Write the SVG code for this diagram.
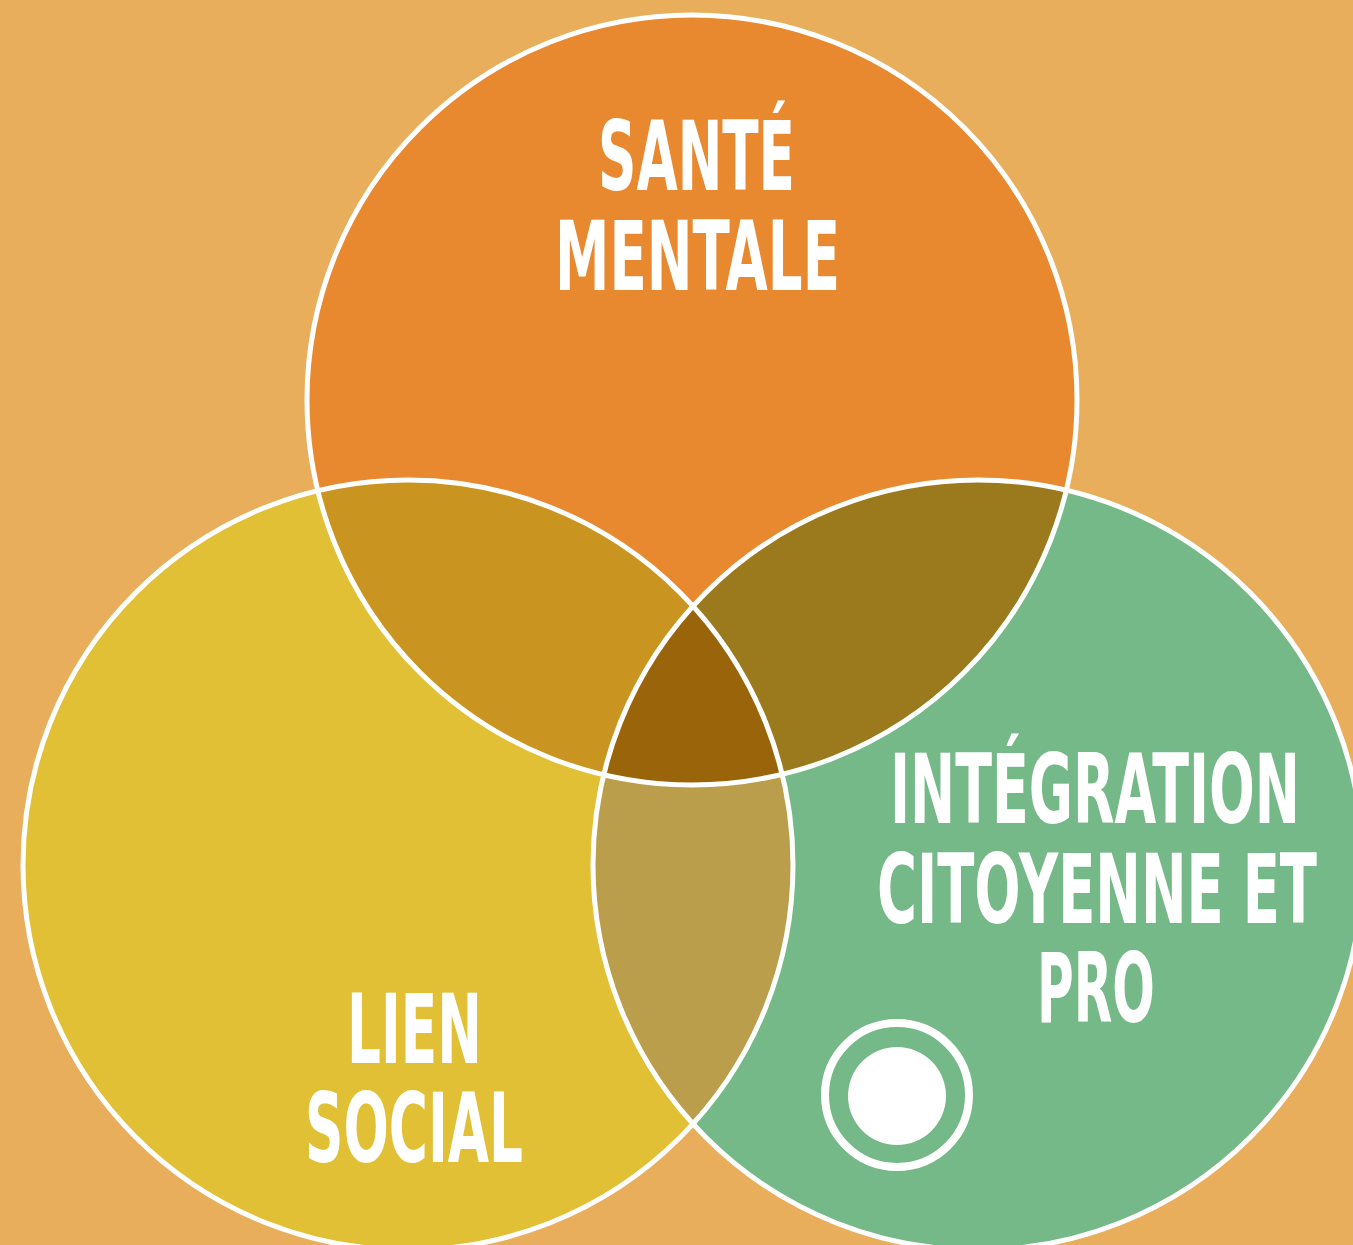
<svg xmlns="http://www.w3.org/2000/svg" width="1353" height="1245" viewBox="0 0 1353 1245">
  <style>
    .lbl { font-family: "DejaVu Sans", "Liberation Sans", sans-serif; font-weight: bold; font-size: 97px; fill: #FFFFFF; }
    .edge { fill: none; stroke: #FFFFFF; stroke-width: 5; }
  </style>
  <defs>
    <circle id="cTop" cx="692" cy="400" r="385"/>
    <circle id="cLeft" cx="408" cy="865" r="385"/>
    <circle id="cRight" cx="978" cy="865" r="385"/>
    <clipPath id="clipTop"><use href="#cTop"/></clipPath>
    <clipPath id="clipLeft"><use href="#cLeft"/></clipPath>
    <clipPath id="clipRight"><use href="#cRight"/></clipPath>
  </defs>
  <rect x="0" y="0" width="1353" height="1245" fill="#E9AE5B"/>

  <g id="sante-mentale">
    <use href="#cTop" fill="#E8882F"/>
  </g>
  <g id="lien-social">
    <use href="#cLeft" fill="#E1C036"/>
  </g>
  <g id="integration">
    <use href="#cRight" fill="#74B987"/>
  </g>

  <g id="overlaps">
    <g clip-path="url(#clipTop)"><use href="#cLeft" fill="#C99520"/></g>
    <g clip-path="url(#clipTop)"><use href="#cRight" fill="#9A7A1C"/></g>
    <g clip-path="url(#clipLeft)"><use href="#cRight" fill="#BA9E4B"/></g>
    <g clip-path="url(#clipTop)"><g clip-path="url(#clipLeft)"><use href="#cRight" fill="#9A650A"/></g></g>
  </g>

  <g id="outlines">
    <use href="#cTop" class="edge"/>
    <use href="#cLeft" class="edge"/>
    <use href="#cRight" class="edge"/>
  </g>

  <g id="labels">
    <text class="lbl" x="598" y="190" textLength="197" lengthAdjust="spacingAndGlyphs">SANTÉ</text>
    <text class="lbl" x="555" y="290" textLength="285" lengthAdjust="spacingAndGlyphs">MENTALE</text>
    <text class="lbl" x="347" y="1063" textLength="135" lengthAdjust="spacingAndGlyphs">LIEN</text>
    <text class="lbl" x="305" y="1162" textLength="218" lengthAdjust="spacingAndGlyphs">SOCIAL</text>
    <text class="lbl" x="890" y="823" textLength="410" lengthAdjust="spacingAndGlyphs">INTÉGRATION</text>
    <text class="lbl" x="877" y="923" textLength="440" lengthAdjust="spacingAndGlyphs">CITOYENNE ET</text>
    <text class="lbl" x="1037" y="1022" textLength="118" lengthAdjust="spacingAndGlyphs">PRO</text>
  </g>

  <g id="target-icon">
    <circle cx="897" cy="1095" r="72" fill="none" stroke="#FFFFFF" stroke-width="8"/>
    <circle cx="897" cy="1096" r="49" fill="#FFFFFF"/>
  </g>
</svg>
